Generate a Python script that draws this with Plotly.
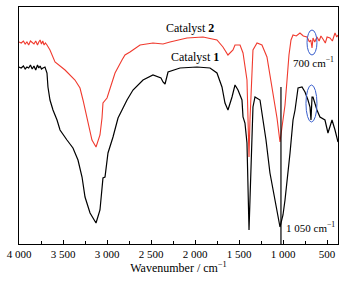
import plotly.graph_objects as go

# Catalyst 2 (red) spectrum: wavenumber (cm^-1) and transmittance (arb. units)
wn_c2 = [4000, 3975, 3950, 3930, 3910, 3890, 3870, 3850, 3830, 3810, 3790, 3775, 3760,
         3745, 3730, 3715, 3700, 3682, 3648, 3591, 3477, 3364, 3307,
         3273, 3228, 3205, 3171, 3125, 3080, 3057, 3046, 3000, 2909, 2830, 2796, 2739,
         2625, 2478, 2364, 2285, 2092, 1910, 1751, 1683, 1626, 1569, 1546, 1489, 1455,
         1410, 1399, 1387, 1376, 1353, 1342, 1296, 1240, 1183, 1126, 1069, 1035, 1001,
         978, 955, 933, 910, 887, 850, 808, 770, 728, 700, 685, 671, 660, 640, 615, 590,
         570, 547, 520, 500, 467, 440, 410, 390, 376]
t_c2 = [202, 201, 203, 200, 202, 199, 203, 201, 200, 203, 199, 202, 204,
        200, 203, 199, 201, 199, 194, 182, 174, 164, 156,
        144, 126, 116, 104, 97, 109, 126, 141, 146, 171, 184, 189, 192,
        199, 201, 200, 202, 206, 207, 204, 197, 189, 194, 199, 199, 191,
        164, 131, 87, 124, 181, 194, 201, 199, 187, 156, 126, 102, 122,
        139, 164, 189, 204, 209, 208, 211, 208, 207, 202, 204, 196, 206, 202, 207, 203,
        208, 205, 201, 207, 206, 203, 211, 207, 209]

# Catalyst 1 (black) spectrum
wn_c1 = [4000, 3975, 3950, 3930, 3910, 3890, 3870, 3850, 3830, 3810, 3790, 3775, 3760,
         3745, 3727, 3705, 3682, 3671, 3648, 3614, 3568, 3534, 3455,
         3387, 3330, 3284, 3250, 3193, 3125, 3080, 3046, 3023, 2989, 2932, 2875, 2830,
         2773, 2705, 2591, 2478, 2387, 2364, 2341, 2307, 2171, 1978, 1830, 1751, 1694,
         1660, 1626, 1580, 1546, 1512, 1467, 1455, 1433, 1410, 1399, 1387, 1376, 1353,
         1342, 1319, 1262, 1228, 1194, 1149, 1069, 1035, 1001, 978, 921, 887, 864, 830,
         785, 751, 717, 694, 683, 671, 660, 615, 581, 524, 490, 444, 410, 387, 376]
t_c1 = [177, 176, 178, 175, 177, 176, 179, 175, 178, 174, 179, 176, 178,
        175, 176, 177, 171, 157, 144, 134, 124, 114, 104,
        96, 84, 67, 47, 31, 21, 34, 66, 67, 91, 107, 126, 134,
        144, 154, 164, 169, 166, 162, 160, 172, 176, 177, 176, 171, 157,
        141, 134, 147, 159, 154, 144, 127, 121, 101, 61, 14, 44, 104,
        137, 147, 144, 124, 104, 71, 34, 17, 29, 44, 91, 124, 134, 156,
        157, 152, 144, 137, 124, 147, 147, 134, 127, 124, 111, 124, 114, 104, 102]

x_ticks = [4000, 3500, 3000, 2500, 2000, 1500, 1000, 500]
x_tick_labels = ["4 000", "3 500", "3 000", "2 500", "2 000", "1 500", "1 000", "500"]

serif = "Liberation Serif"

fig = go.Figure()
fig.add_trace(go.Scatter(x=wn_c2, y=t_c2, mode="lines",
                         line=dict(color="#f03a2e", width=1.1), showlegend=False))
fig.add_trace(go.Scatter(x=wn_c1, y=t_c1, mode="lines",
                         line=dict(color="black", width=1.2), showlegend=False))

# marker line at 1 050 cm-1
fig.add_shape(type="line", x0=1024, x1=1024, y0=0, y1=157,
              line=dict(color="black", width=1.2))
# blue ellipses around 700 cm-1
fig.add_shape(type="circle", x0=728, x1=615, y0=189, y1=214,
              line=dict(color="#3a5fcd", width=1))
fig.add_shape(type="circle", x0=740, x1=615, y0=122, y1=159,
              line=dict(color="#3a5fcd", width=1))

fig.add_annotation(x=2057, y=216, text="Catalyst <b>2</b>", showarrow=False,
                   font=dict(family=serif, size=12, color="black"))
fig.add_annotation(x=2000, y=187, text="Catalyst <b>1</b>", showarrow=False,
                   font=dict(family=serif, size=12, color="black"))
fig.add_annotation(x=660, y=182, text="700 cm<sup>−1</sup>", showarrow=False,
                   font=dict(family=serif, size=11, color="black"))
fig.add_annotation(x=995, y=17, text="1 050 cm<sup>−1</sup>", showarrow=False,
                   xanchor="left", font=dict(family=serif, size=11, color="black"))

fig.update_layout(
    width=346, height=283,
    margin=dict(l=19, r=8, t=7, b=39),
    paper_bgcolor="white", plot_bgcolor="white",
    font=dict(family=serif, color="black"),
    xaxis=dict(range=[4000, 376], showgrid=False, zeroline=False,
               showline=True, linecolor="black", linewidth=1, mirror=True,
               ticks="inside", ticklen=4, tickcolor="black",
               tickvals=x_ticks, ticktext=x_tick_labels,
               minor=dict(dtick=250, ticks="inside", ticklen=3, tickcolor="black"),
               tickfont=dict(family=serif, size=11, color="black"),
               title=dict(text="Wavenumber / cm<sup>−1</sup>", standoff=3,
                          font=dict(family=serif, size=12, color="black"))),
    yaxis=dict(range=[0, 237], showgrid=False, zeroline=False,
               showline=True, linecolor="black", linewidth=1, mirror=True,
               showticklabels=False, ticks=""),
)

fig.write_html("out.html", config={"displayModeBar": False},
               post_script="document.body.style.margin='0';document.body.style.overflow='hidden';")
